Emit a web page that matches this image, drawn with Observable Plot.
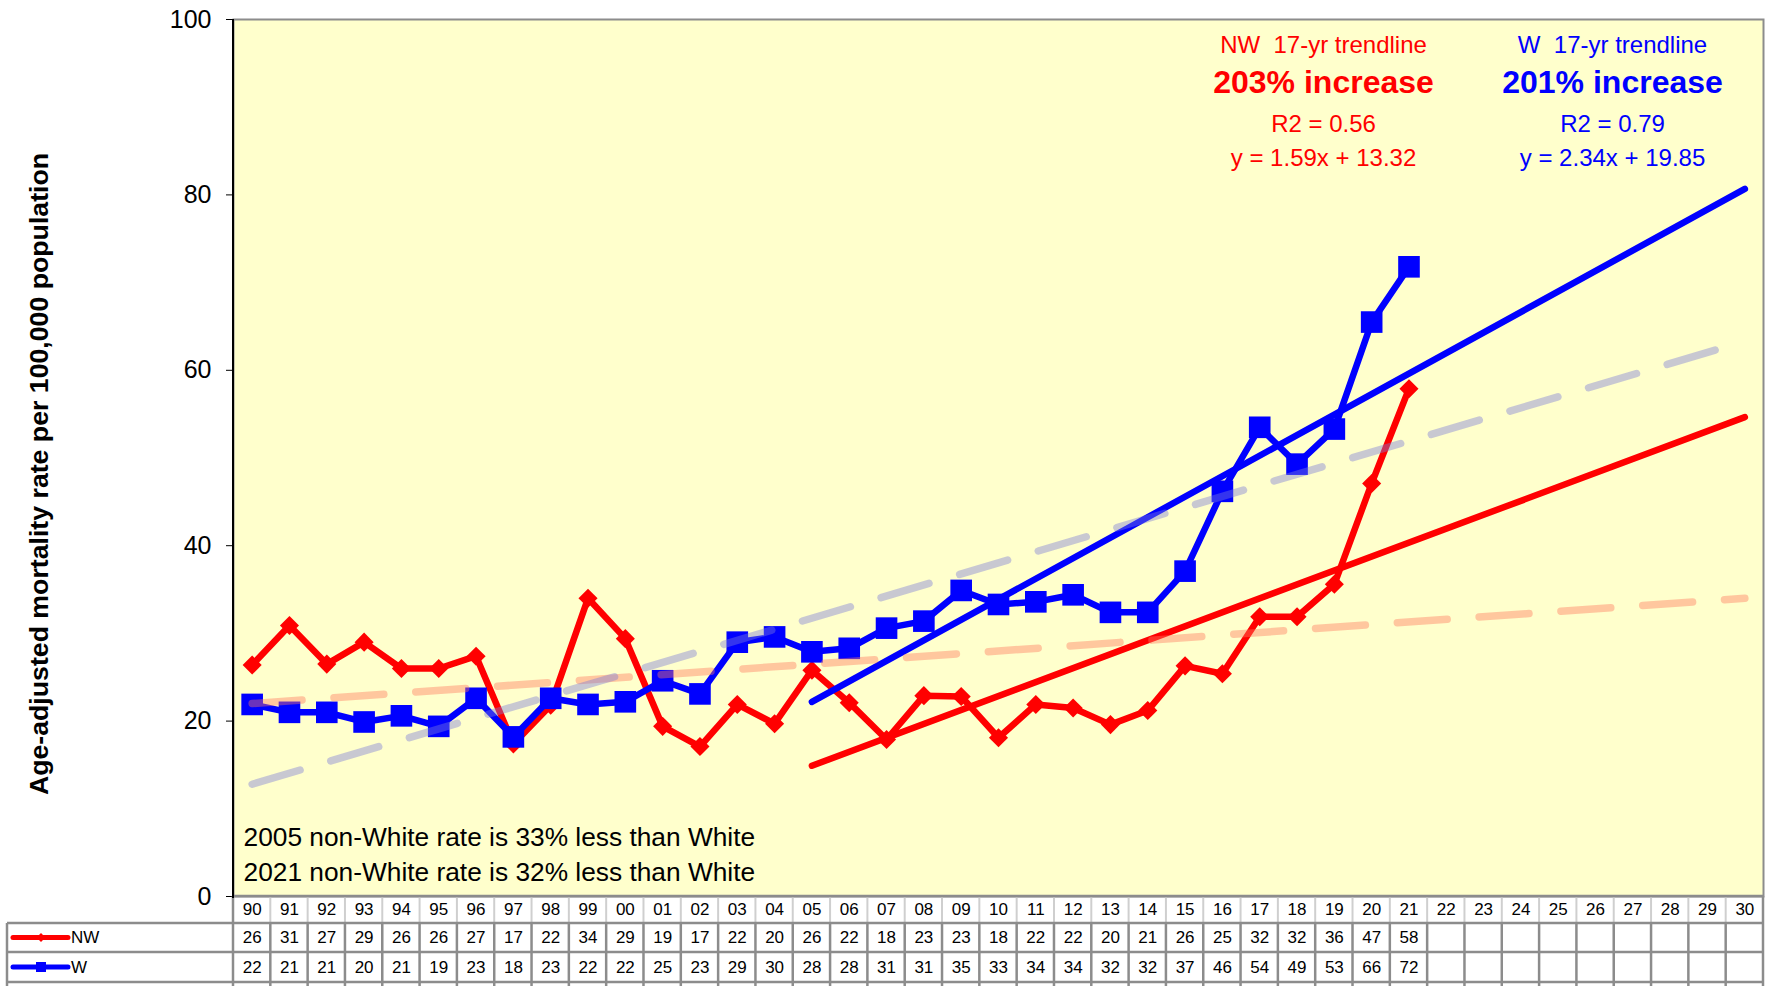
<!DOCTYPE html>
<html>
<head>
<meta charset="utf-8">
<script src="https://cdn.jsdelivr.net/npm/d3@7"></script>
<script src="https://cdn.jsdelivr.net/npm/@observablehq/plot@0.6"></script>
<style>
  html, body { margin: 0; padding: 0; background: #fff; }
  #chart svg { display: block; }
</style>
</head>
<body>
<div id="chart"></div>
<script>
// ---- data ----
const years = ["90","91","92","93","94","95","96","97","98","99","00","01","02","03","04","05","06","07","08","09","10",
               "11","12","13","14","15","16","17","18","19","20","21","22","23","24","25","26","27","28","29","30"];
// non-White (NW) age-adjusted mortality rate, 1990-2021
const nwRate = [26.4,30.9,26.5,29.0,26.0,26.0,27.4,17.4,21.8,34.0,29.4,19.4,17.1,21.9,19.7,25.8,22.1,17.9,22.9,22.8,18.1,
                21.9,21.5,19.6,21.2,26.3,25.4,31.9,31.9,35.6,47.1,57.9];
// White (W) age-adjusted mortality rate, 1990-2021
const wRate  = [21.9,21.0,21.0,19.9,20.6,19.4,22.6,18.2,22.6,21.9,22.2,24.6,23.1,29.0,29.6,27.9,28.3,30.6,31.4,34.9,33.3,
                33.6,34.4,32.4,32.4,37.1,46.2,53.5,49.3,53.3,65.5,71.8];
// long-term (dashed) trendlines, value at first and last category
const longTrendYears = ["90","30"];
const nwLongTrend = [22.0, 34.0];
const wLongTrend  = [12.8, 63.3];
// 17-yr trendlines (equations shown on chart, x = 1 at 2005)
const shortTrendYears = ["05","30"];
const shortTrendX = [1, 26];
const nwTrendSlope = 1.59, nwTrendIntercept = 13.32;
const wTrendSlope  = 2.34, wTrendIntercept  = 19.85;
// texts
const nwNotes = ["NW\u00a0 17-yr trendline", "203% increase", "R2 = 0.56", "y = 1.59x + 13.32"];
const wNotes  = ["W\u00a0 17-yr trendline", "201% increase", "R2 = 0.79", "y = 2.34x + 19.85"];
const gapNotes = ["2005 non-White rate is 33% less than White", "2021 non-White rate is 32% less than White"];
const seriesNames = ["NW", "W"];
const yTicks = [0, 20, 40, 60, 80, 100];
const yLabel = "Age-adjusted mortality rate per 100,000 population";

// ---- derived tables ----
const nwData = nwRate.map((v, i) => ({year: years[i], value: v}));
const wData  = wRate.map((v, i) => ({year: years[i], value: v}));
const nwShort = shortTrendYears.map((yr, i) => ({year: yr, value: nwTrendSlope * shortTrendX[i] + nwTrendIntercept}));
const wShort  = shortTrendYears.map((yr, i) => ({year: yr, value: wTrendSlope * shortTrendX[i] + wTrendIntercept}));
const nwLong = longTrendYears.map((yr, i) => ({year: yr, value: nwLongTrend[i]}));
const wLong  = longTrendYears.map((yr, i) => ({year: yr, value: wLongTrend[i]}));

const RED = "#ff0000", BLUE = "#0000ff";
const FONT = "'Liberation Sans', Arial, Helvetica, sans-serif";

// Data-table grid + legend keys drawn in the bottom margin, using Plot's x scale
function dataTable(index, scales, values, dims) {
  const x = scales.x;
  const step = x(years[1]) - x(years[0]);
  const left = dims.marginLeft, right = dims.width - dims.marginRight;
  const top = dims.height - dims.marginBottom;
  const bottom = dims.height;
  const rows = [top, top + 27, top + 56, top + 86];
  const dark = "#8c8c8c", light = "#cfcfcf";
  const g = d3.create("svg:g");
  const line = (x1, y1, x2, y2, stroke, w) =>
    g.append("line").attr("x1", x1).attr("y1", y1).attr("x2", x2).attr("y2", y2)
     .attr("stroke", stroke).attr("stroke-width", w);
  years.forEach((yr, i) => { if (i > 0) line(x(yr) - step / 2, rows[0], x(yr) - step / 2, rows[1], light, 2); });
  years.forEach((yr, i) => { if (i > 0) line(x(yr) - step / 2, rows[1], x(yr) - step / 2, bottom, dark, 2.5); });
  line(left, rows[0], left, bottom, dark, 2.5);
  line(right, rows[0], right, bottom, dark, 2.5);
  line(7, rows[1], 7, bottom, dark, 2.5);
  line(left, rows[0], right, rows[0], dark, 2.5);
  line(7, rows[1], right, rows[1], dark, 2.5);
  line(7, rows[2], right, rows[2], dark, 2.5);
  line(7, rows[3], right, rows[3], dark, 2.5);
  // left black axis line
  line(left, dims.marginTop, left, top + 2, "#000", 2);
  // legend keys
  const keys = [
    {name: seriesNames[0], color: RED, sym: d3.symbolDiamond2, size: 50},
    {name: seriesNames[1], color: BLUE, sym: d3.symbolSquare, size: 100}
  ];
  keys.forEach((k, i) => {
    const cy = (rows[i + 1] + rows[i + 2]) / 2;
    g.append("line").attr("x1", 13).attr("x2", 68).attr("y1", cy).attr("y2", cy)
      .attr("stroke", k.color).attr("stroke-width", 5).attr("stroke-linecap", "round");
    g.append("path").attr("d", d3.symbol(k.sym, k.size)()).attr("transform", `translate(41,${cy})`).attr("fill", k.color);
    g.append("text").attr("x", 71).attr("y", cy).attr("dy", "0.35em").attr("font-size", 17)
      .attr("text-anchor", "start").attr("fill", "#000").text(k.name);
  });
  return g.node();
}

const noteMarks = [];
const noteDy = [26, 63, 105, 139];
const noteSize = [24, 32, 24, 24];
const noteWeight = ["normal", "bold", "normal", "normal"];
[[nwNotes, RED, 1090], [wNotes, BLUE, 1379]].forEach(([notes, color, dx]) => {
  notes.forEach((s, i) => {
    noteMarks.push(Plot.text([s], {
      text: d => d, frameAnchor: "top-left", dx, dy: noteDy[i], textAnchor: "middle", lineAnchor: "middle",
      fill: color, fontSize: noteSize[i], fontWeight: noteWeight[i]
    }));
  });
});
gapNotes.forEach((s, i) => {
  noteMarks.push(Plot.text([s], {
    text: d => d, frameAnchor: "bottom-left", dx: 10, dy: [-59, -24][i], textAnchor: "start", lineAnchor: "middle",
    fill: "#000", fontSize: 26.3
  }));
});

const chart = Plot.plot({
  width: 1765,
  height: 986,
  marginTop: 19,
  marginBottom: 90,
  marginLeft: 233,
  marginRight: 2,
  style: {fontFamily: FONT, fontSize: "25px", background: "#fff", color: "#000", overflow: "visible"},
  x: {type: "point", domain: years, padding: 0.5, round: false, axis: null},
  y: {domain: [0, 100], ticks: yTicks, tickSize: 7, tickPadding: 15, label: null, tickFormat: d => String(d)},
  marks: [
    Plot.frame({fill: "#FFFFCC"}),
    Plot.frame({stroke: "#8c8c8c", strokeWidth: 2}),
    dataTable,
    Plot.text(years, {x: d => d, text: d => d, frameAnchor: "bottom", dy: 13.5, lineAnchor: "middle", fontSize: 17, fill: "#000"}),
    Plot.text(nwData, {x: "year", text: d => String(Math.round(d.value)), frameAnchor: "bottom", dy: 41.5, lineAnchor: "middle", fontSize: 17, fill: "#000"}),
    Plot.text(wData, {x: "year", text: d => String(Math.round(d.value)), frameAnchor: "bottom", dy: 71, lineAnchor: "middle", fontSize: 17, fill: "#000"}),
    Plot.text([yLabel], {text: d => d, frameAnchor: "left", rotate: -90, dx: -194, dy: 16, textAnchor: "middle", lineAnchor: "middle",
      fontSize: 26.7, fontWeight: "bold", fill: "#000"}),
    Plot.line(nwData, {x: "year", y: "value", stroke: RED, strokeWidth: 6.5, strokeLinejoin: "round"}),
    Plot.dot(nwData, {x: "year", y: "value", symbol: "diamond2", r: 8.6, fill: RED}),
    Plot.line(wData, {x: "year", y: "value", stroke: BLUE, strokeWidth: 6.5, strokeLinejoin: "round"}),
    Plot.dot(wData, {x: "year", y: "value", symbol: "square", r: 12.2, fill: BLUE}),
    Plot.line(nwShort, {x: "year", y: "value", stroke: RED, strokeWidth: 6.5, strokeLinecap: "round"}),
    Plot.line(wShort, {x: "year", y: "value", stroke: BLUE, strokeWidth: 6.5, strokeLinecap: "round"}),
    Plot.line(nwLong, {x: "year", y: "value", stroke: "#ff7a60", strokeOpacity: 0.42, strokeWidth: 7.5,
      strokeDasharray: "50,32", strokeLinecap: "round"}),
    Plot.line(wLong, {x: "year", y: "value", stroke: "#7c7cd8", strokeOpacity: 0.42, strokeWidth: 7.5,
      strokeDasharray: "50,32", strokeLinecap: "round"}),
    ...noteMarks
  ]
});
document.getElementById("chart").append(chart);
</script>
</body>
</html>
